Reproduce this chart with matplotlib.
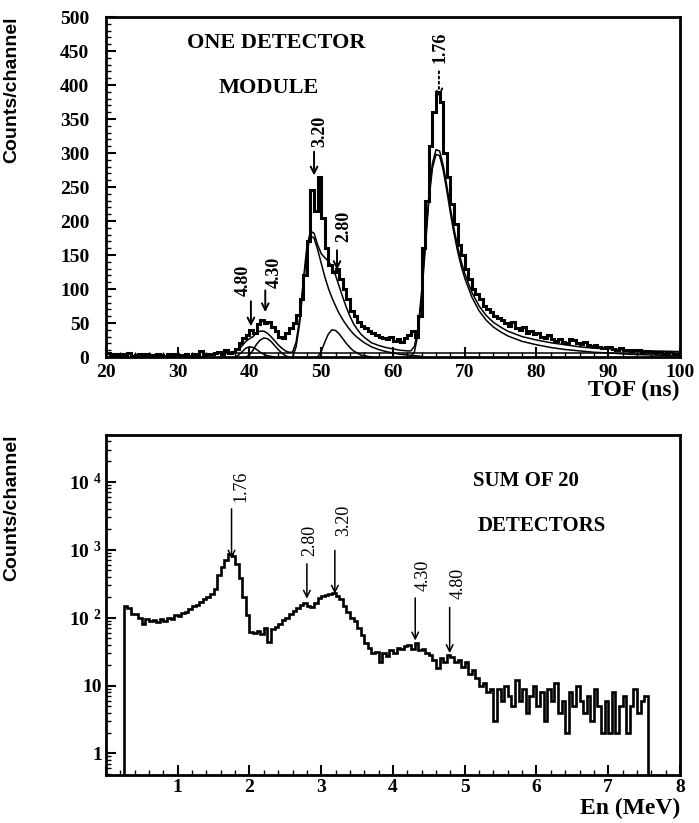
import numpy as np
import matplotlib
matplotlib.use("Agg")
import matplotlib.pyplot as plt
from matplotlib.ticker import MultipleLocator, LogLocator, FuncFormatter, NullFormatter

plt.rcParams['font.family'] = ['Liberation Serif', 'DejaVu Serif']
plt.rcParams['font.weight'] = 'bold'
plt.rcParams['mathtext.fontset'] = 'custom'
plt.rcParams['mathtext.bf'] = 'Liberation Serif:bold'
plt.rcParams['mathtext.rm'] = 'Liberation Serif:bold'
plt.rcParams['mathtext.default'] = 'bf'

# ---- top panel: TOF spectrum, one detector module (0.5 ns bins from 20 to 100 ns)
tof_counts = [
    6, 4, 5, 2, 4, 3, 6, 2, 3, 4, 2, 5, 3, 2, 4, 3, 2, 5, 3, 4,
    2, 3, 5, 2, 4, 3, 9, 3, 4, 5, 6, 8, 5, 10, 6, 8, 12, 20, 28, 32,
    40, 36, 48, 55, 50, 52, 44, 38, 30, 28, 36, 42, 50, 62, 85, 120, 170, 245, 215, 265,
    205, 160, 135, 125, 130, 115, 100, 85, 68, 60, 52, 45, 42, 38, 35, 32, 30, 28, 26, 30,
    24, 26, 22, 28, 32, 38, 30, 60, 160, 230, 310, 360, 390, 375, 300, 265, 225, 195, 165, 150,
    130, 115, 100, 92, 85, 75, 70, 66, 60, 58, 54, 50, 46, 52, 42, 40, 44, 36, 38, 34,
    35, 30, 28, 32, 26, 24, 27, 22, 20, 26, 25, 21, 19, 22, 17, 16, 18, 14, 13, 15,
    15, 12, 11, 13, 10, 11, 9, 10, 10, 8, 9, 7, 8, 6, 7, 5, 6, 8, 5, 4,
]

# fitted components (thin lines)
fit480_t = [38, 38.5, 39, 39.5, 40, 40.5, 41, 41.5, 42, 42.5, 43, 43.5]
fit480_v = [0, 3, 8, 13, 15, 14, 11, 7, 4, 2, 1, 0]
fit430_t = [39.5, 40, 40.5, 41, 41.5, 42, 42.5, 43, 43.5, 44, 44.5, 45, 45.5]
fit430_v = [0, 3, 10, 19, 25, 28, 27, 23, 17, 11, 6, 2, 0]
fit320_t = [46, 46.5, 47, 47.5, 48, 48.5, 49, 49.5, 50, 50.5, 51, 51.5, 52, 52.5, 53, 53.5,
            54, 54.5, 55, 55.5, 56, 56.5, 57, 57.5, 58, 59, 60, 61, 62, 63, 64]
fit320_v = [0, 15, 50, 105, 155, 178, 175, 158, 138, 118, 101, 87, 75, 64, 55, 47,
            40, 34, 29, 25, 21, 18, 15, 13, 11, 8, 6, 4, 3, 2, 1]
fit280_t = [49.5, 50, 50.5, 51, 51.5, 52, 52.5, 53, 53.5, 54, 54.5, 55, 55.5, 56, 57]
fit280_v = [0, 8, 22, 34, 40, 39, 34, 27, 20, 14, 9, 6, 3, 2, 0]
fit176_t = [62.5, 63, 63.5, 64, 64.5, 65, 65.5, 66, 66.5, 67, 67.5, 68, 68.5, 69, 69.5, 70,
            71, 72, 73, 74, 75, 76, 77, 78, 80, 82, 84, 86, 88, 90, 93, 96, 100]
fit176_v = [0, 8, 35, 90, 160, 230, 278, 298, 296, 275, 245, 212, 182, 156, 134, 116,
            88, 68, 54, 44, 37, 31, 27, 23, 18, 14, 11, 9, 7, 6, 4, 3, 2]
bg_t = [36, 100]
bg_v = [6, 6]
fit_tot_t = [36, 37, 38, 38.5, 39, 39.5, 40, 40.5, 41, 41.5, 42, 42.5, 43, 43.5, 44, 44.5,
             45, 45.5, 46, 46.5, 47, 47.5, 48, 48.5, 49, 49.5, 50, 50.5, 51, 51.5, 52, 52.5,
             53, 53.5, 54, 54.5, 55, 55.5, 56, 56.5, 57, 57.5, 58, 59, 60, 61, 62, 62.5,
             63, 63.5, 64, 64.5, 65, 65.5, 66, 66.5, 67, 67.5, 68, 68.5, 69, 69.5, 70,
             71, 72, 73, 74, 75, 76, 77, 78, 80, 82, 84, 86, 88, 90, 93, 96, 100]
fit_tot_v = [6, 7, 8, 11, 17, 23, 27, 30, 36, 38, 38, 35, 30, 24, 18, 13,
             9, 7, 7, 22, 57, 112, 162, 185, 182, 165, 152, 146, 141, 133, 120, 104,
             88, 73, 60, 49, 41, 34, 29, 25, 21, 19, 17, 14, 12, 10, 9, 9,
             16, 43, 97, 167, 237, 285, 305, 303, 282, 252, 219, 189, 163, 141, 123,
             95, 75, 61, 51, 44, 38, 34, 30, 25, 21, 18, 15, 13, 12, 10, 9, 8]

peak_labels = ['4.80', '4.30', '3.20', '2.80', '1.76']
tof_peaks = [40.2, 42.2, 49.0, 52.2, 66.4]

# ---- bottom panel: neutron energy spectrum, sum of 20 detectors (0.05 MeV bins)
en_counts = [
    0.1,
    150, 140, 115, 112, 98, 80, 95, 88, 92, 86,
    95, 90, 100, 96, 108, 104, 118, 122, 135, 150,
    155, 170, 185, 200, 225, 260, 420, 560, 700, 880,
    820, 620, 380, 200, 110, 62, 60, 64, 58, 70,
    44, 68, 72, 80, 92, 100, 115, 125, 140, 155,
    162, 150, 142, 165, 195, 205, 215, 220, 228, 210,
    185, 150, 120, 100, 88, 70, 55, 42, 36, 30,
    31, 22, 30, 27, 33, 30, 36, 34, 38, 40,
    35, 42, 33, 34, 30, 28, 24, 18, 25, 22,
    28, 26, 22, 24, 19, 22, 15, 17, 13, 10,
    11, 8, 9, 3, 9, 6, 10, 7, 5, 12,
    6, 9, 4, 7, 10, 5, 8, 3, 9, 6,
    11, 4, 6, 2, 8, 5, 10, 6, 4, 7,
    3, 9, 5, 2, 6, 2, 8, 2, 5, 7,
    2, 5, 9, 4, 6, 7,
    0.1,
]
en_peaks = [4.79, 4.31, 3.19, 2.80, 1.75]

fig = plt.figure(figsize=(6.99, 8.23), dpi=100)
ax1 = fig.add_axes([0.1516, 0.5662, 0.8212, 0.4131])
ax2 = fig.add_axes([0.1516, 0.0583, 0.8212, 0.4131])

# top
tof_edges = np.linspace(20, 100, len(tof_counts) + 1)
ax1.stairs(tof_counts, tof_edges, color='black', lw=2.2, baseline=None)
for t, v in [(fit480_t, fit480_v), (fit430_t, fit430_v), (fit320_t, fit320_v),
             (fit280_t, fit280_v), (fit176_t, fit176_v), (bg_t, bg_v), (fit_tot_t, fit_tot_v)]:
    ax1.plot(t, v, color='black', lw=1.1)

# arrow layout for top panel: (tip, tail, text x, text y)
top_layout = [(45, 82, 39.2, 113), (66, 98, 43.4, 124), (267, 302, 49.8, 332),
              (128, 157, 53.1, 192), (382, 420, 66.6, 456)]
for lab, x, (tip, tail, tx, ty) in zip(peak_labels, tof_peaks, top_layout):
    ls = ':' if lab == '1.76' else '-'
    ax1.annotate('', xy=(x, tip), xytext=(x, tail),
                 arrowprops=dict(arrowstyle='->', lw=1.4, color='black', linestyle=ls,
                                 shrinkA=0, shrinkB=0, mutation_scale=12))
    ax1.text(tx, ty, lab, rotation=90, ha='center', va='center', fontsize=13,
             fontweight='bold')

ax1.text(43.7, 462, 'ONE DETECTOR', ha='center', va='center', fontsize=16)
ax1.text(42.7, 395, 'MODULE', ha='center', va='center', fontsize=16)

ax1.set_xlim(20, 100)
ax1.set_ylim(0, 500)
ax1.xaxis.set_major_locator(MultipleLocator(10))
ax1.xaxis.set_minor_locator(MultipleLocator(2))
ax1.yaxis.set_major_locator(MultipleLocator(50))
ax1.yaxis.set_minor_locator(MultipleLocator(10))
ax1.text(1.0, -0.068, 'TOF (ns)', transform=ax1.transAxes, ha='right', va='top', fontsize=17)

# bottom
en_edges = np.linspace(0.20, 7.60, len(en_counts) + 1)
ax2.stairs(en_counts, en_edges, color='black', lw=1.9, baseline=None)
ax2.set_yscale('log')

bottom_layout = [(30, 141, 4.91, 316), (46, 195, 4.42, 417), (225, 980, 3.31, 2700),
                 (190, 620, 2.84, 1350), (740, 4000, 1.88, 8700)]
for lab, x, (tip, tail, tx, ty) in zip(peak_labels, en_peaks, bottom_layout):
    ax2.annotate('', xy=(x, tip), xytext=(x, tail),
                 arrowprops=dict(arrowstyle='->', lw=1.1, color='black',
                                 shrinkA=0, shrinkB=0, mutation_scale=12))
    ax2.text(tx, ty, lab, rotation=90, ha='center', va='center', fontsize=13,
             fontweight='normal')

ax2.text(5.86, 10200, 'SUM OF 20', ha='center', va='center', fontsize=15)
ax2.text(6.07, 2240, 'DETECTORS', ha='center', va='center', fontsize=15)

ax2.set_xlim(0, 8)
ax2.set_ylim(0.48, 49000)
ax2.xaxis.set_major_locator(MultipleLocator(1))
ax2.xaxis.set_minor_locator(MultipleLocator(0.2))
ax2.xaxis.set_major_formatter(FuncFormatter(lambda v, p: '' if v == 0 else '%d' % v))
ax2.yaxis.set_major_locator(LogLocator(base=10, numticks=10))
ax2.yaxis.set_minor_locator(LogLocator(base=10, subs=np.arange(2, 10), numticks=20))
ax2.yaxis.set_minor_formatter(NullFormatter())


def log_label(v, pos):
    e = int(round(np.log10(v)))
    if e == 0:
        return '1'
    if e == 1:
        return '10'
    return r'10$^{\ %d}$' % e


ax2.yaxis.set_major_formatter(FuncFormatter(log_label))
ax2.text(1.0, -0.066, 'En (MeV)', transform=ax2.transAxes, ha='right', va='top', fontsize=17)

for ax in (ax1, ax2):
    for s in ax.spines.values():
        s.set_linewidth(2.0)
    ax.tick_params(which='both', direction='in', top=False, right=False, labelsize=14)
    ax.tick_params(which='major', length=7, width=1.5)
    ax.tick_params(which='minor', length=3.5, width=1.0)
    ax.tick_params(axis='x', which='major', pad=5)
    ax.tick_params(axis='y', which='major', pad=12)
    ax.set_ylabel('Counts/channel', fontsize=14, fontweight='bold',
                  family=['Liberation Sans Narrow', 'Liberation Sans'])
    ax.yaxis.set_label_coords(-0.15, 0.785)

ax2.tick_params(axis='y', which='major', pad=3)
ax2.tick_params(axis='x', which='major', pad=3)

fig.savefig('out.png', dpi=100)
